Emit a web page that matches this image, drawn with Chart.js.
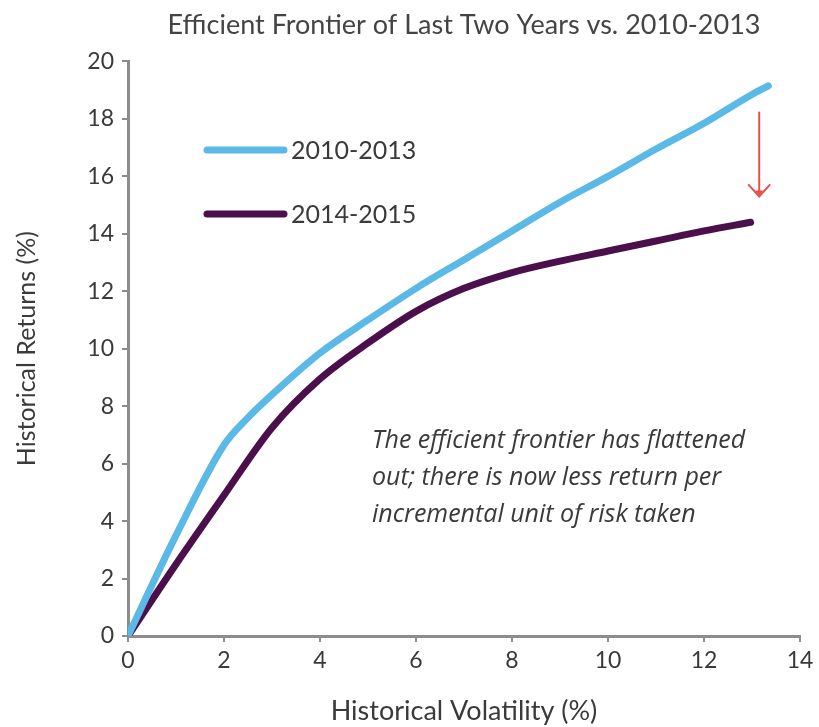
<!DOCTYPE html>
<html>
<head>
<meta charset="utf-8">
<script src="https://cdn.jsdelivr.net/npm/chart.js@4.4.1/dist/chart.umd.min.js"></script>
<style>
  html, body { margin: 0; padding: 0; background: #fff; }
  #wrap { width: 819px; height: 727px; }
</style>
</head>
<body>
<div id="wrap"><canvas id="chart-frontier" width="819" height="727"></canvas></div>
<script>
const volatility2010 = [0, 1, 2, 2.5, 3, 4, 5, 6, 7, 8, 9, 10, 11, 12, 13, 13.34];
const returns2010 = [0, 3.5, 6.65, 7.6, 8.4, 9.85, 11.0, 12.1, 13.1, 14.1, 15.1, 16.0, 16.95, 17.85, 18.85, 19.15];
const volatility2014 = [0, 1, 2, 3, 4, 5, 6, 7, 8, 9, 10, 11, 12, 12.97];
const returns2014 = [0, 2.5, 4.9, 7.25, 8.95, 10.2, 11.3, 12.1, 12.65, 13.05, 13.4, 13.75, 14.1, 14.4];
const seriesLabels = ["2010-2013", "2014-2015"];
const seriesColors = ["#5ab9e6", "#4b0f4b"];
const xTicks = [0, 2, 4, 6, 8, 10, 12, 14];
const yTicks = [0, 2, 4, 6, 8, 10, 12, 14, 16, 18, 20];
const noteLines = [
  "The efficient frontier has flattened",
  "out; there is now less return per",
  "incremental unit of risk taken",
];
// arrow: from the 2010-2013 end down toward 2014-2015
const arrowX = 13.15;
const arrowFrom = 18.25;
const arrowTo = 15.3;

const axisGray = "#8c8c8c";
const textGray = "#3a3a3a";

function toPoints(xs, ys) {
  return xs.map((x, i) => ({ x, y: ys[i] }));
}

const extrasPlugin = {
  id: "extras",
  afterDraw(chart) {
    const { ctx } = chart;
    const xs = chart.scales.x;
    const ys = chart.scales.y;
    ctx.save();

    // legend inside the plot
    const legendRows = [150, 214];
    seriesLabels.forEach((label, i) => {
      ctx.strokeStyle = seriesColors[i];
      ctx.lineWidth = 7;
      ctx.lineCap = "round";
      ctx.beginPath();
      ctx.moveTo(207, legendRows[i]);
      ctx.lineTo(284, legendRows[i]);
      ctx.stroke();
      ctx.fillStyle = textGray;
      ctx.font = "25px Lato";
      ctx.textBaseline = "middle";
      ctx.textAlign = "left";
      ctx.fillText(label, 291, legendRows[i] + 1);
    });

    // note text
    ctx.font = "italic 25px 'Open Sans'";
    ctx.fillStyle = textGray;
    ctx.textBaseline = "middle";
    noteLines.forEach((line, i) => {
      ctx.fillText(line, 372, 441 + i * 37, 382);
    });

    // red arrow
    const ax = xs.getPixelForValue(arrowX);
    const ay1 = ys.getPixelForValue(arrowFrom);
    const ay2 = ys.getPixelForValue(arrowTo);
    ctx.strokeStyle = "#e5524a";
    ctx.fillStyle = "#e5524a";
    ctx.lineWidth = 2;
    ctx.lineCap = "butt";
    ctx.beginPath();
    ctx.moveTo(ax, ay1);
    ctx.lineTo(ax, ay2 - 4);
    ctx.stroke();
    ctx.beginPath();
    ctx.moveTo(ax - 11, ay2 - 12);
    ctx.lineTo(ax, ay2);
    ctx.lineTo(ax + 11, ay2 - 12);
    ctx.stroke();
    ctx.beginPath();
    ctx.moveTo(ax - 4, ay2 - 6);
    ctx.lineTo(ax, ay2);
    ctx.lineTo(ax + 4, ay2 - 6);
    ctx.closePath();
    ctx.fill();

    ctx.restore();
  },
};

const ctx = document.getElementById("chart-frontier");
new Chart(ctx, {
  type: "line",
  data: {
    datasets: [
      {
        label: seriesLabels[0],
        data: toPoints(volatility2010, returns2010),
        borderColor: seriesColors[0],
        borderWidth: 7,
        pointRadius: 0,
        cubicInterpolationMode: "monotone",
        borderCapStyle: "round",
      },
      {
        label: seriesLabels[1],
        data: toPoints(volatility2014, returns2014),
        borderColor: seriesColors[1],
        borderWidth: 7,
        pointRadius: 0,
        cubicInterpolationMode: "monotone",
        borderCapStyle: "round",
      },
    ],
  },
  options: {
    responsive: false,
    animation: false,
    layout: { padding: { top: 0, right: 19, bottom: 0, left: 0 } },
    plugins: {
      legend: { display: false },
      tooltip: { enabled: false },
      title: {
        display: true,
        fullSize: false,
        text: "Efficient Frontier of Last Two Years vs. 2010-2013",
        color: "#444",
        font: { family: "Lato", size: 27, weight: "normal" },
        padding: { top: 9, bottom: 20 },
      },
    },
    scales: {
      x: {
        type: "linear",
        min: 0,
        max: 14,
        afterBuildTicks: (scale) => { scale.ticks = xTicks.map((v) => ({ value: v })); },
        afterFit: (scale) => { scale.height = 91; },
        border: { color: axisGray, width: 3 },
        grid: { drawOnChartArea: false, drawTicks: true, tickLength: 6, color: axisGray, lineWidth: 2 },
        ticks: { color: textGray, font: { family: "Lato", size: 23 }, padding: 5 },
        title: {
          display: true,
          text: "Historical Volatility (%)",
          color: textGray,
          font: { family: "Lato", size: 27 },
          padding: { top: 10, bottom: 0 },
        },
      },
      y: {
        min: 0,
        max: 20,
        afterBuildTicks: (scale) => { scale.ticks = yTicks.map((v) => ({ value: v })); },
        afterFit: (scale) => { scale.width = 128; },
        border: { color: axisGray, width: 3 },
        grid: { drawOnChartArea: false, drawTicks: true, tickLength: 6, color: axisGray, lineWidth: 2 },
        ticks: { color: textGray, font: { family: "Lato", size: 23 }, padding: 8 },
        title: {
          display: true,
          text: "Historical Returns (%)",
          color: textGray,
          font: { family: "Lato", size: 25 },
          padding: { top: 12, bottom: 0 },
        },
      },
    },
  },
  plugins: [extrasPlugin],
});
</script>
</body>
</html>
